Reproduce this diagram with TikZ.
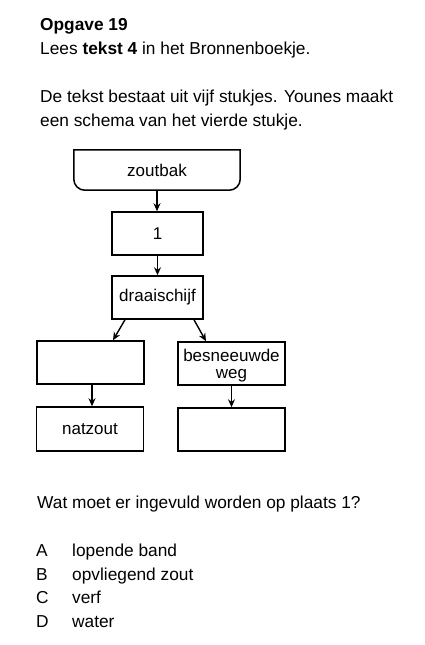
\documentclass[tikz,border=0pt]{standalone}
\usepackage{fontspec}
\setmainfont{Liberation Sans}
\usetikzlibrary{arrows.meta}
\begin{document}
\begin{tikzpicture}[x=1pt,y=1pt,
  txt/.style={anchor=base west,inner sep=0pt,font=\fontsize{17.3}{20}\selectfont},
  box/.style={draw,line width=1.5pt,inner sep=0pt,minimum width=#1,minimum height=43pt,font=\fontsize{17}{20}\selectfont,align=center},
  box/.default=107pt,
  arr/.style={line width=1.4pt,-{Stealth[length=8pt,width=7pt]}}]
\useasboundingbox (0,0) rectangle (425,-645);
\node[txt,font=\fontsize{17.3}{20}\selectfont\bfseries] (title) at (40,-30) {Opgave 19};
\node[txt] (l1) at (40,-54) {Lees \textbf{tekst 4} in het Bronnenboekje.};
\node[txt] (l2) at (40,-102) {De tekst bestaat uit vijf stukjes. Younes maakt};
\node[txt] (l3) at (40,-126) {een schema van het vierde stukje.};
% diagram
\node[inner sep=0pt,minimum width=166pt,minimum height=40pt,font=\fontsize{17}{20}\selectfont] (zout) at (157,-170) {zoutbak};
\draw[line width=1.5pt] (zout.north west) -- (zout.north east) -- ([yshift=11pt]zout.south east) arc[start angle=0,end angle=-90,radius=11pt] -- ([xshift=11pt]zout.south west) arc[start angle=270,end angle=180,radius=11pt] -- cycle;
\node[box=91pt] (b1) at (157.5,-233.5) {1};
\node[box=91pt] (draai) at (157.5,-297.5) {draaischijf};
\node[box] (left2) at (90.5,-362.5) {};
\node[box,text depth=0pt] (right2) at (231.5,-363.5) {besneeuwde\\[-3pt]weg};
\node[box,minimum height=44pt] (left3) at (90,-429) {natzout};
\node[box] (right3) at (231.5,-429.5) {};
\draw[arr] (zout.south) -- (zout.south |- b1.north);
\draw[arr] (b1.south) -- (b1.south |- draai.north);
\draw[arr] ([xshift=-32.5pt]draai.south) -- ([xshift=22.5pt]left2.north);
\draw[arr] ([xshift=36.5pt]draai.south) -- ([xshift=-25.5pt]right2.north);
\draw[arr] ([xshift=1.5pt]left2.south) -- ([xshift=1.5pt]left2.south |- left3.north);
\draw[arr] (right2.south) -- (right2.south |- right3.north);
% question
\node[txt] (q) at (37,-508) {Wat moet er ingevuld worden op plaats 1?};
\node[txt] (A) at (36,-556) {A};
\node[txt] (At) at (72,-556) {lopende band};
\node[txt] (B) at (36,-580) {B};
\node[txt] (Bt) at (72,-580) {opvliegend zout};
\node[txt] (C) at (36,-603) {C};
\node[txt] (Ct) at (72,-603) {verf};
\node[txt] (D) at (36,-627) {D};
\node[txt] (Dt) at (72,-627) {water};
\end{tikzpicture}
\end{document}
